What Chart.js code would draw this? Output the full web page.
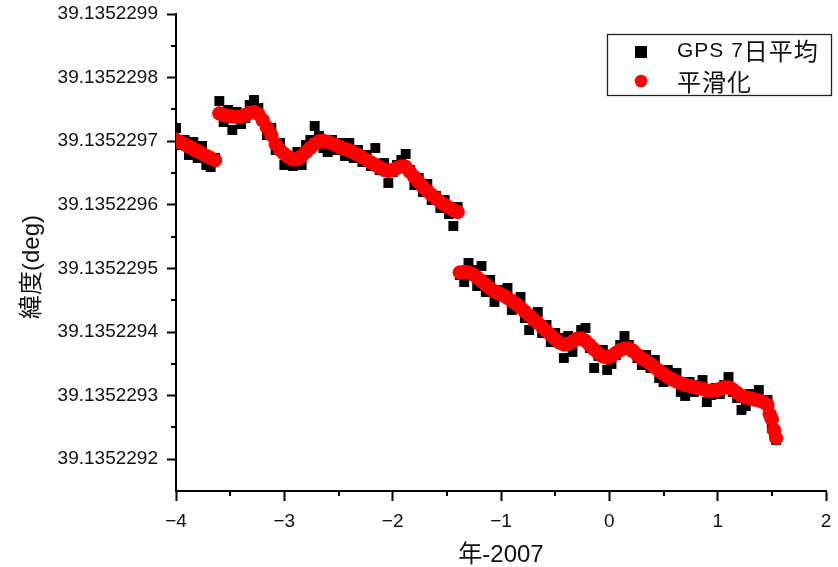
<!DOCTYPE html>
<html>
<head>
<meta charset="utf-8">
<script src="https://cdn.jsdelivr.net/npm/chart.js@4.4.1/dist/chart.umd.min.js"></script>
<style>
  html, body { margin: 0; padding: 0; background: #ffffff; }
  canvas { display: block; }
</style>
</head>
<body>
<canvas id="chart" width="838" height="567"></canvas>
<script>
// Decimal years relative to 2007, three observation periods
const years1 = [-4.00, -3.96, -3.92, -3.88, -3.84, -3.80, -3.76, -3.72, -3.68, -3.64];
const years2 = [-3.60, -3.56, -3.52, -3.48, -3.44, -3.40, -3.36, -3.32, -3.28, -3.24,
  -3.20, -3.16, -3.12, -3.08, -3.04, -3.00, -2.96, -2.92, -2.88, -2.84,
  -2.80, -2.76, -2.72, -2.68, -2.64, -2.60, -2.56, -2.52, -2.48, -2.44,
  -2.40, -2.36, -2.32, -2.28, -2.24, -2.20, -2.16, -2.12, -2.08, -2.04,
  -2.00, -1.96, -1.92, -1.88, -1.84, -1.80, -1.76, -1.72, -1.68, -1.64,
  -1.60, -1.56, -1.52, -1.48, -1.44, -1.40];
const years3 = [-1.38, -1.34, -1.30, -1.26, -1.22, -1.18, -1.14, -1.10, -1.06, -1.02,
  -0.98, -0.94, -0.90, -0.86, -0.82, -0.78, -0.74, -0.70, -0.66, -0.62,
  -0.58, -0.54, -0.50, -0.46, -0.42, -0.38, -0.34, -0.30, -0.26, -0.22,
  -0.18, -0.14, -0.10, -0.06, -0.02, 0.02, 0.06, 0.10, 0.14, 0.18,
  0.22, 0.26, 0.30, 0.34, 0.38, 0.42, 0.46, 0.50, 0.54, 0.58,
  0.62, 0.66, 0.70, 0.74, 0.78, 0.82, 0.86, 0.90, 0.94, 0.98,
  1.02, 1.06, 1.10, 1.14, 1.18, 1.22, 1.26, 1.30, 1.34, 1.38,
  1.42, 1.46, 1.48, 1.50, 1.52, 1.54];

// GPS latitude, 7-day average (deg)
const gps1 = [39.1352297208, 39.1352296940, 39.1352297019, 39.1352296783, 39.1352296987,
  39.1352296736, 39.1352296925, 39.1352296626, 39.1352296594, 39.1352296736];
const gps2 = [39.1352297632, 39.1352297302, 39.1352297491, 39.1352297176, 39.1352297459,
  39.1352297270, 39.1352297365, 39.1352297569, 39.1352297648, 39.1352297522,
  39.1352297318, 39.1352297097, 39.1352297208, 39.1352296862, 39.1352296972,
  39.1352296626, 39.1352296673, 39.1352296610, 39.1352296830, 39.1352296626,
  39.1352296940, 39.1352297019, 39.1352297239, 39.1352297082, 39.1352296893,
  39.1352296830, 39.1352297019, 39.1352296862, 39.1352296972, 39.1352296767,
  39.1352296972, 39.1352296736, 39.1352296862, 39.1352296673, 39.1352296783,
  39.1352296610, 39.1352296893, 39.1352296547, 39.1352296657, 39.1352296343,
  39.1352296516, 39.1352296626, 39.1352296704, 39.1352296799, 39.1352296547,
  39.1352296311, 39.1352296421, 39.1352296201, 39.1352296327, 39.1352296075,
  39.1352296138, 39.1352295950, 39.1352296075, 39.1352295855, 39.1352295667,
  39.1352295965];
const gps3 = [39.1352294896, 39.1352294786, 39.1352295085, 39.1352294975, 39.1352294723,
  39.1352295038, 39.1352294629, 39.1352294818, 39.1352294472, 39.1352294566,
  39.1352294660, 39.1352294692, 39.1352294346, 39.1352294503, 39.1352294550,
  39.1352294220, 39.1352294031, 39.1352294220, 39.1352294314, 39.1352293984,
  39.1352294110, 39.1352293843, 39.1352293984, 39.1352293906, 39.1352293591,
  39.1352293937, 39.1352293686, 39.1352293874, 39.1352294031, 39.1352294063,
  39.1352293748, 39.1352293434, 39.1352293623, 39.1352293717, 39.1352293403,
  39.1352293497, 39.1352293638, 39.1352293796, 39.1352293937, 39.1352293796,
  39.1352293686, 39.1352293591, 39.1352293481, 39.1352293638, 39.1352293434,
  39.1352293560, 39.1352293277, 39.1352293214, 39.1352293403, 39.1352293340,
  39.1352293355, 39.1352293057, 39.1352292994, 39.1352293214, 39.1352293057,
  39.1352293167, 39.1352293245, 39.1352292899, 39.1352293009, 39.1352293119,
  39.1352293025, 39.1352293167, 39.1352293292, 39.1352293057, 39.1352292962,
  39.1352292774, 39.1352292836, 39.1352293025, 39.1352292931, 39.1352293088,
  39.1352292899, 39.1352292931, 39.1352292679, 39.1352292491, 39.1352292396,
  39.1352292302];

// Smoothed latitude (deg)
const smooth1 = [39.1352297019, 39.1352296983, 39.1352296948, 39.1352296912, 39.1352296877,
  39.1352296841, 39.1352296807, 39.1352296770, 39.1352296736, 39.1352296700];
const smooth2 = [39.1352297436, 39.1352297412, 39.1352297396, 39.1352297388, 39.1352297381,
  39.1352297388, 39.1352297412, 39.1352297443, 39.1352297459, 39.1352297428,
  39.1352297333, 39.1352297215, 39.1352297097, 39.1352296956, 39.1352296862,
  39.1352296799, 39.1352296752, 39.1352296712, 39.1352296720, 39.1352296767,
  39.1352296830, 39.1352296893, 39.1352296956, 39.1352296995, 39.1352297003,
  39.1352296987, 39.1352296964, 39.1352296932, 39.1352296901, 39.1352296877,
  39.1352296854, 39.1352296822, 39.1352296783, 39.1352296744, 39.1352296704,
  39.1352296665, 39.1352296626, 39.1352296586, 39.1352296547, 39.1352296531,
  39.1352296547, 39.1352296579, 39.1352296602, 39.1352296594, 39.1352296516,
  39.1352296437, 39.1352296358, 39.1352296280, 39.1352296217, 39.1352296154,
  39.1352296099, 39.1352296044, 39.1352295997, 39.1352295958, 39.1352295918,
  39.1352295887];
const smooth3 = [39.1352294936, 39.1352294943, 39.1352294936, 39.1352294904, 39.1352294857,
  39.1352294802, 39.1352294739, 39.1352294684, 39.1352294637, 39.1352294605,
  39.1352294574, 39.1352294535, 39.1352294487, 39.1352294440, 39.1352294385,
  39.1352294322, 39.1352294259, 39.1352294197, 39.1352294142, 39.1352294079,
  39.1352294016, 39.1352293953, 39.1352293890, 39.1352293835, 39.1352293803,
  39.1352293811, 39.1352293851, 39.1352293890, 39.1352293898, 39.1352293858,
  39.1352293796, 39.1352293725, 39.1352293662, 39.1352293615, 39.1352293599,
  39.1352293623, 39.1352293670, 39.1352293717, 39.1352293741, 39.1352293741,
  39.1352293701, 39.1352293638, 39.1352293583, 39.1352293544, 39.1352293497,
  39.1352293442, 39.1352293387, 39.1352293340, 39.1352293292, 39.1352293253,
  39.1352293222, 39.1352293190, 39.1352293167, 39.1352293151, 39.1352293135,
  39.1352293119, 39.1352293104, 39.1352293080, 39.1352293072, 39.1352293080,
  39.1352293104, 39.1352293127, 39.1352293127, 39.1352293096, 39.1352293041,
  39.1352292994, 39.1352292970, 39.1352292955, 39.1352292939, 39.1352292923,
  39.1352292899, 39.1352292852, 39.1352292711, 39.1352292632, 39.1352292459,
  39.1352292333];

// Axis tick values
const xTicks = [-4, -3, -2, -1, 0, 1, 2];
const yTicks = [39.1352292, 39.1352293, 39.1352294, 39.1352295,
  39.1352296, 39.1352297, 39.1352298, 39.1352299];

const seriesNames = ['GPS 7日平均', '平滑化'];
const xTitle = '年-2007';
const yTitle = '緯度(deg)';

const LATIN = '"Liberation Sans", Arial, sans-serif';
const MIXED = '"Liberation Sans", "Noto Sans CJK JP", sans-serif';
const CJK = '"Noto Sans CJK JP", sans-serif';

function pairs(xs, ys) {
  return xs.map((x, i) => ({ x: x, y: ys[i] }));
}
const gpsPoints = [].concat(pairs(years1, gps1), pairs(years2, gps2), pairs(years3, gps3));
const smoothPoints = [].concat(pairs(years1, smooth1), pairs(years2, smooth2), pairs(years3, smooth3));

// Short unlabeled ticks halfway between the labeled ones
const minorTicks = {
  id: 'minorTicks',
  afterDatasetsDraw(chart) {
    const { ctx, chartArea, scales } = chart;
    ctx.save();
    ctx.strokeStyle = '#000';
    ctx.lineWidth = 2;
    ctx.beginPath();
    for (let i = 0; i < xTicks.length - 1; i++) {
      const px = Math.round(scales.x.getPixelForValue((xTicks[i] + xTicks[i + 1]) / 2));
      ctx.moveTo(px, chartArea.bottom);
      ctx.lineTo(px, chartArea.bottom + 5);
    }
    for (let i = 0; i < yTicks.length - 1; i++) {
      const py = Math.round(scales.y.getPixelForValue((yTicks[i] + yTicks[i + 1]) / 2));
      ctx.moveTo(chartArea.left, py);
      ctx.lineTo(chartArea.left - 5, py);
    }
    ctx.stroke();
    ctx.restore();
  }
};

// Rotated y-axis title
const yAxisTitle = {
  id: 'yAxisTitle',
  afterDraw(chart) {
    const ctx = chart.ctx;
    ctx.save();
    ctx.translate(32, 267);
    ctx.rotate(-Math.PI / 2);
    ctx.textAlign = 'center';
    ctx.textBaseline = 'middle';
    ctx.fillStyle = '#111';
    ctx.font = '24px ' + MIXED;
    ctx.fillText(yTitle, 0, 0);
    ctx.restore();
  }
};

// Text with latin and CJK runs set at their own sizes
function drawRuns(ctx, text, x, y) {
  const runs = text.match(/[\u3000-\u9fff]+|[^\u3000-\u9fff]+/g) || [];
  ctx.letterSpacing = '1px';
  for (const r of runs) {
    const cjk = /[\u3000-\u9fff]/.test(r);
    ctx.font = cjk ? ('24px ' + CJK) : ('21px ' + LATIN);
    ctx.fillText(r, x, y);
    x += ctx.measureText(r).width;
  }
}

// Framed legend in the upper right
const boxLegend = {
  id: 'boxLegend',
  afterDraw(chart) {
    const ctx = chart.ctx;
    ctx.save();
    ctx.fillStyle = '#fff';
    ctx.fillRect(607, 34, 225, 62);
    ctx.strokeStyle = '#222';
    ctx.lineWidth = 1.3;
    ctx.strokeRect(607.5, 34.5, 224, 61);
    ctx.fillStyle = '#000';
    ctx.fillRect(635, 46, 12, 12);
    ctx.fillStyle = '#ff0000';
    ctx.beginPath();
    ctx.arc(641, 81, 6.3, 0, Math.PI * 2);
    ctx.fill();
    ctx.fillStyle = '#111';
    ctx.textBaseline = 'middle';
    ctx.textAlign = 'left';
    drawRuns(ctx, seriesNames[0], 677, 51);
    drawRuns(ctx, seriesNames[1], 677, 82);
    ctx.restore();
  }
};

new Chart(document.getElementById('chart'), {
  type: 'scatter',
  data: {
    datasets: [
      {
        label: seriesNames[0],
        data: gpsPoints,
        pointStyle: 'rect',
        pointRadius: 7,
        borderWidth: 0,
        backgroundColor: '#000000',
        borderColor: '#000000',
        clip: 0,
        order: 2
      },
      {
        label: seriesNames[1],
        data: smoothPoints,
        pointStyle: 'circle',
        pointRadius: 7.2,
        borderWidth: 0,
        backgroundColor: '#ff0000',
        borderColor: '#ff0000',
        clip: 0,
        order: 1
      }
    ]
  },
  options: {
    responsive: false,
    animation: false,
    events: [],
    layout: { padding: { left: 0, right: 12, top: 14, bottom: 0 } },
    plugins: {
      legend: { display: false },
      tooltip: { enabled: false }
    },
    scales: {
      x: {
        type: 'linear',
        position: 'bottom',
        min: -4,
        max: 2,
        afterFit(scale) { scale.height = 76; },
        afterBuildTicks(scale) { scale.ticks = xTicks.map(v => ({ value: v })); },
        border: { display: true, color: '#000', width: 2 },
        grid: { drawOnChartArea: false, drawTicks: true, tickLength: 10, tickWidth: 2, tickColor: '#000' },
        ticks: {
          padding: 5,
          color: '#111',
          font: { family: LATIN, size: 19, lineHeight: 1.65 },
          maxRotation: 0,
          callback: v => (v < 0 ? '\u2212' + (-v) : String(v))
        },
        title: {
          display: true,
          text: xTitle,
          color: '#111',
          font: { family: MIXED, size: 24, lineHeight: 1 },
          padding: { top: 0, bottom: 0 }
        }
      },
      y: {
        type: 'linear',
        position: 'left',
        min: 39.13522915,
        max: 39.1352299,
        afterFit(scale) { scale.width = 176; },
        afterBuildTicks(scale) { scale.ticks = yTicks.map(v => ({ value: v })); },
        border: { display: true, color: '#000', width: 2 },
        grid: { drawOnChartArea: false, drawTicks: true, tickLength: 9, tickWidth: 2, tickColor: '#000' },
        ticks: {
          padding: 9,
          color: '#111',
          font: { family: LATIN, size: 19, lineHeight: 0.5 },
          callback: v => Number(v).toFixed(7)
        }
      }
    }
  },
  plugins: [minorTicks, yAxisTitle, boxLegend]
});
</script>
</body>
</html>
